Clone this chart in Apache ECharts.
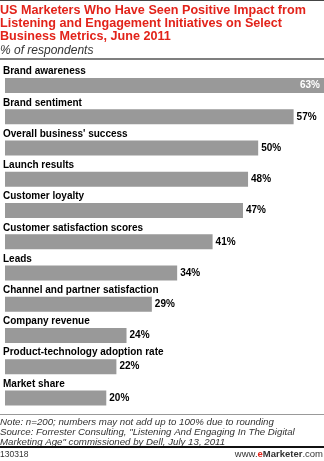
<!DOCTYPE html>
<html>
<head>
<meta charset="utf-8">
<script src="https://cdn.jsdelivr.net/npm/echarts@6/dist/echarts.min.js"></script>
<style>html,body{margin:0;padding:0;background:#fff}#c{width:324px;height:461px}</style>
</head>
<body>
<div id="c"></div>
<script>
const categories = [
  "Brand awareness",
  "Brand sentiment",
  "Overall business' success",
  "Launch results",
  "Customer loyalty",
  "Customer satisfaction scores",
  "Leads",
  "Channel and partner satisfaction",
  "Company revenue",
  "Product-technology adoption rate",
  "Market share"
];
const values = [63, 57, 50, 48, 47, 41, 34, 29, 24, 22, 20];
const titleLines = [
  "US Marketers Who Have Seen Positive Impact from",
  "Listening and Engagement Initiatives on Select",
  "Business Metrics, June 2011"
];
const subtitle = "% of respondents";
const noteLines = [
  "Note: n=200; numbers may not add up to 100% due to rounding",
  "Source: Forrester Consulting, \"Listening And Engaging In The Digital",
  "Marketing Age\" commissioned by Dell, July 13, 2011"
];
const chartId = "130318";

const chart = echarts.init(document.getElementById('c'), null, {renderer: 'canvas'});
const FONT = '"Liberation Sans", Arial, sans-serif';

const seriesData = values.map((v, i) => {
  const d = {value: v};
  if (i === 0) {
    d.label = {position: 'insideRight', color: '#fff', distance: 4};
  }
  return d;
});

chart.setOption({
  animation: false,
  backgroundColor: '#fff',
  grid: {left: 0, right: 0, top: 70, bottom: 47.5, containLabel: false},
  xAxis: {type: 'value', min: 0, max: 63, show: false},
  yAxis: {
    type: 'category',
    data: categories,
    inverse: true,
    axisLine: {show: false},
    axisTick: {show: false},
    splitLine: {show: false},
    axisLabel: {
      inside: true,
      align: 'left',
      verticalAlign: 'bottom',
      margin: -2,
      padding: [0, 0, 9, 0],
      fontFamily: FONT,
      fontWeight: 'bold',
      fontSize: 10,
      color: '#000'
    },
    z: 5
  },
  series: [{
    type: 'bar',
    data: seriesData,
    barWidth: 15,
    itemStyle: {color: '#999999'},
    label: {
      show: true,
      position: 'right',
      distance: 3,
      formatter: '{c}%',
      fontFamily: FONT,
      fontWeight: 'bold',
      fontSize: 10,
      color: '#000'
    }
  }],
  graphic: [
    {type: 'line', shape: {x1: 0, y1: 0.5, x2: 324, y2: 0.5}, style: {stroke: '#444', lineWidth: 1}},
    {type: 'text', left: 0, top: 4, style: {
      text: titleLines.join('\n'), fontFamily: FONT, fontWeight: 'bold', fontSize: 12.6,
      lineHeight: 12.8, fill: '#e2231a'}},
    {type: 'text', left: 0, top: 44.5, style: {
      text: subtitle, fontFamily: FONT, fontStyle: 'italic', fontSize: 12, fill: '#333'}},
    {type: 'line', shape: {x1: 0, y1: 59, x2: 324, y2: 59}, style: {stroke: '#555', lineWidth: 1.5}},
    {type: 'line', shape: {x1: 0, y1: 414.5, x2: 324, y2: 414.5}, style: {stroke: '#999', lineWidth: 1}},
    {type: 'text', left: 0, top: 417, style: {
      text: noteLines.join('\n'), fontFamily: FONT, fontStyle: 'italic', fontSize: 9.7,
      lineHeight: 10, fill: '#333'}},
    {type: 'line', shape: {x1: 0, y1: 447, x2: 324, y2: 447}, style: {stroke: '#111', lineWidth: 2}},
    {type: 'text', left: 0, top: 450, style: {
      text: chartId, fontFamily: FONT, fontSize: 8.5, fill: '#333'}},
    {type: 'text', right: 1, top: 449.5, style: {
      text: '{a|www.}{b|e}{c|Marketer}{a|.com}',
      rich: {
        a: {fontFamily: FONT, fontSize: 9.5, fill: '#333'},
        b: {fontFamily: FONT, fontSize: 9.5, fontWeight: 'bold', fill: '#e2231a'},
        c: {fontFamily: FONT, fontSize: 9.5, fontWeight: 'bold', fill: '#333'}
      }}}
  ]
});
</script>
</body>
</html>
